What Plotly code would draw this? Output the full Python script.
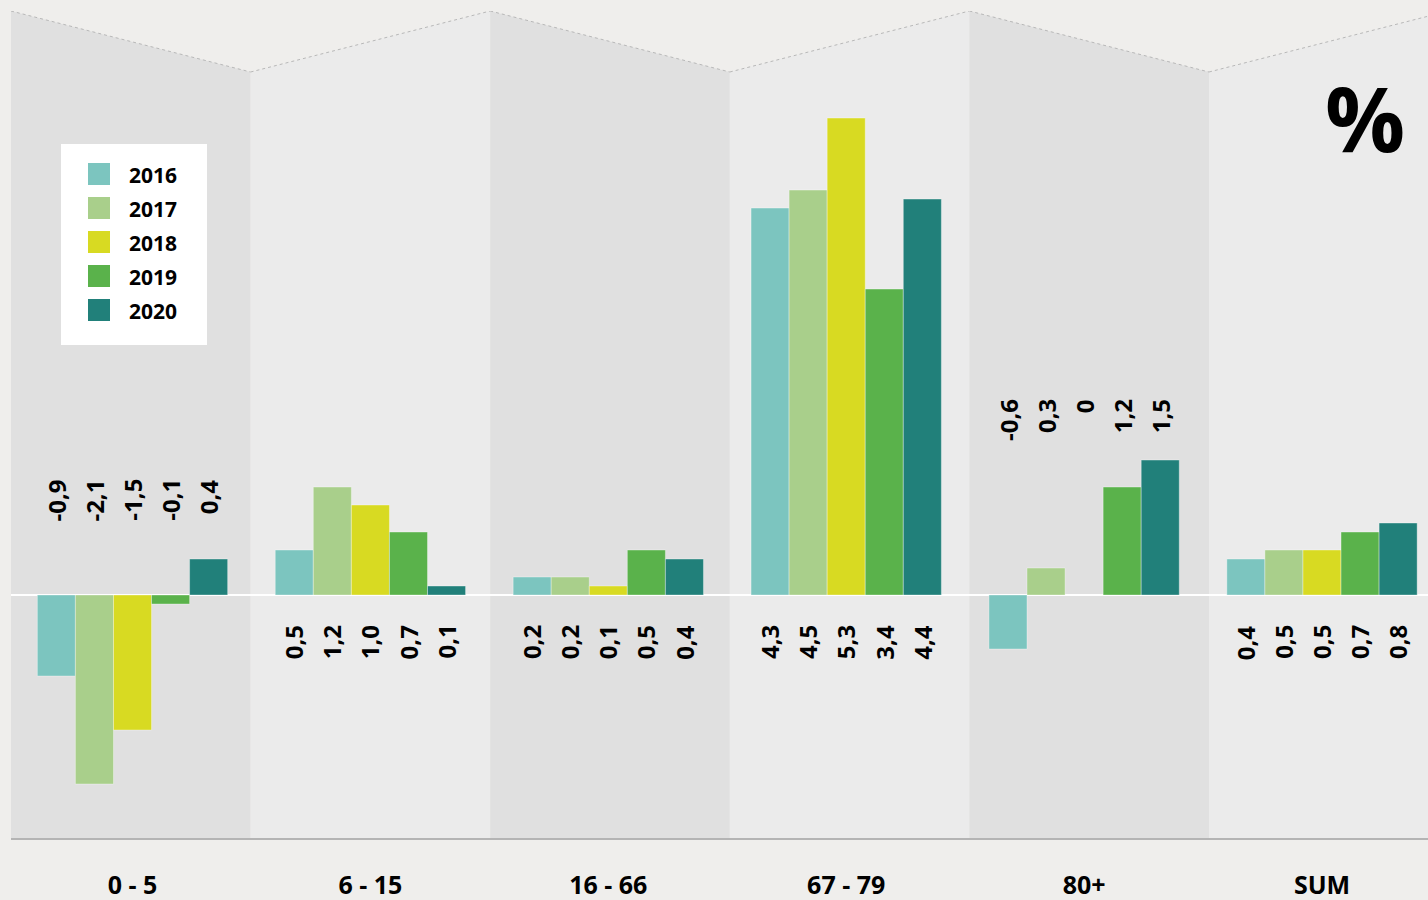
import plotly.graph_objects as go

# ---------------- data ----------------
groups = ["0 - 5", "6 - 15", "16 - 66", "67 - 79", "80+", "SUM"]
years = ["2016", "2017", "2018", "2019", "2020"]
v2016 = [-0.9, 0.5, 0.2, 4.3, -0.6, 0.4]
v2017 = [-2.1, 1.2, 0.2, 4.5, 0.3, 0.5]
v2018 = [-1.5, 1.0, 0.1, 5.3, 0.0, 0.5]
v2019 = [-0.1, 0.7, 0.5, 3.4, 1.2, 0.7]
v2020 = [0.4, 0.1, 0.4, 4.4, 1.5, 0.8]
series = [v2016, v2017, v2018, v2019, v2020]

# ---------------- styles / layout constants ----------------
colors = ["#7cc5bf", "#a9cf8b", "#d8da22", "#5ab24b", "#21807a"]
BG = "#efeeec"
DARK = "#e0e0e0"
LIGHT = "#ebebeb"
FONT = "Open Sans"
W, H = 1428, 900
ML, MR, MT, MB = 11, 0, 11, 62
PW = W - ML - MR
PH = H - MT - MB
Y0, Y1 = -2.7, 6.49
PANEL_PX = 239.6          # width of a folded panel in px
GROUP_PX = 237.9          # spacing of bar groups in px
FIRST_GROUP_PX = 132.5    # px position of first group centre
X0 = -(FIRST_GROUP_PX - ML) / GROUP_PX
X1 = X0 + PW / GROUP_PX
VALLEY = Y1 - 61 / (PH / (Y1 - Y0))
BARGAP = 0.2
label_top_y = [1.31, -0.31, -0.31, -0.31, 2.2, -0.31]


def pxx(px):
    return (px - ML) / PW


def pxy(py):
    return (H - MB - py) / PH


def fmt(v):
    if v == 0:
        return "0"
    return f"{v:.1f}".replace(".", ",")


fig = go.Figure()
xs = list(range(len(groups)))
for name, vals, col in zip(years, series, colors):
    fig.add_trace(go.Bar(
        x=xs, y=vals, name=name,
        marker=dict(color=col, line=dict(color="rgba(255,255,255,0.35)", width=1)),
        showlegend=False, hoverinfo="skip",
    ))

shapes = []
# folded panels
for i in range(len(groups)):
    a, b = pxx(ML + PANEL_PX * i), pxx(ML + PANEL_PX * (i + 1))
    if i % 2 == 0:
        ya, yb, fill = Y1, VALLEY, DARK
    else:
        ya, yb, fill = VALLEY, Y1, LIGHT
    shapes.append(dict(type="path", xref="paper", yref="y", layer="below",
                       path=f"M {a},{Y0} L {a},{ya} L {b},{yb} L {b},{Y0} Z",
                       fillcolor=fill, line=dict(width=0)))
    shapes.append(dict(type="line", xref="paper", yref="y", layer="below",
                       x0=a, y0=ya, x1=b, y1=yb,
                       line=dict(color="#b8b8b8", width=1, dash="dot")))

annotations = []
# value labels
n = len(series)
bw = (1 - BARGAP) / n
for gi in range(len(groups)):
    for si, vals in enumerate(series):
        xc = gi - (1 - BARGAP) / 2 + bw * (si + 0.5)
        annotations.append(dict(
            x=xc, y=label_top_y[gi], xref="x", yref="y",
            text=fmt(vals[gi]), textangle=-90, showarrow=False,
            xanchor="center", yanchor="top",
            font=dict(family=FONT, size=24, color="black", weight=700),
        ))

# legend box (manual)
shapes.append(dict(type="rect", xref="paper", yref="paper",
                   x0=pxx(61), x1=pxx(207), y0=pxy(345), y1=pxy(144),
                   fillcolor="white", line=dict(width=0), layer="above"))
row_tops = [163, 197, 231, 265, 299]
for top, name, col in zip(row_tops, years, colors):
    shapes.append(dict(type="rect", xref="paper", yref="paper",
                       x0=pxx(88), x1=pxx(110), y0=pxy(top + 22), y1=pxy(top),
                       fillcolor=col, line=dict(width=0), layer="above"))
    annotations.append(dict(x=pxx(127), y=pxy(top + 12), xref="paper", yref="paper",
                            text=name, showarrow=False, xanchor="left", yanchor="middle",
                            font=dict(family=FONT, size=21, color="black", weight=700)))

# percent sign
annotations.append(dict(x=pxx(1365), y=pxy(118), xref="paper", yref="paper",
                        text="%", showarrow=False, xanchor="center", yanchor="middle",
                        font=dict(family=FONT, size=89, color="black", weight=700)))

fig.update_layout(
    width=W, height=H,
    margin=dict(l=ML, r=MR, t=MT, b=MB, pad=0, autoexpand=False),
    paper_bgcolor=BG, plot_bgcolor=BG,
    barmode="group", bargap=BARGAP, bargroupgap=0,
    shapes=shapes, annotations=annotations,
    xaxis=dict(range=[X0, X1], tickvals=xs, ticktext=groups,
               showgrid=False, zeroline=False, automargin=False,
               showline=True, linecolor="#b4b4b4", linewidth=2,
               ticks="outside", ticklen=24, tickcolor="rgba(0,0,0,0)",
               tickfont=dict(family=FONT, size=25, color="black", weight=700),
               fixedrange=True),
    yaxis=dict(range=[Y0, Y1], showgrid=False, showticklabels=False,
               zeroline=True, zerolinecolor="white", zerolinewidth=2,
               showline=False, automargin=False, fixedrange=True),
    showlegend=False,
)

fig.write_html("out.html", config={"displayModeBar": False},
               post_script="document.body.style.margin='0';")
